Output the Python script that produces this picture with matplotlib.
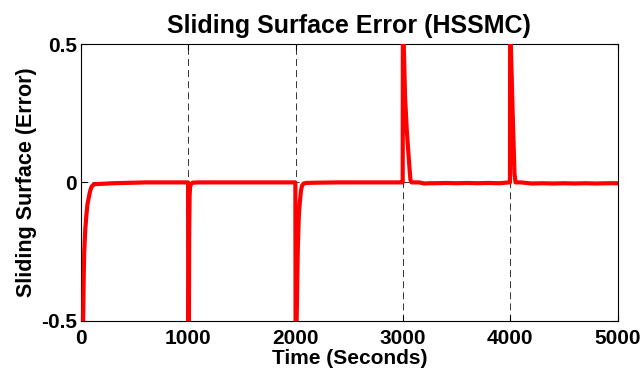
import matplotlib
matplotlib.use("Agg")
import matplotlib.pyplot as plt

plt.rcParams['font.family'] = ['Liberation Sans', 'DejaVu Sans']
plt.rcParams['font.weight'] = 'bold'
plt.rcParams['lines.scale_dashes'] = False

title = "Sliding Surface Error (HSSMC)"
xlabel = "Time (Seconds)"
ylabel = "Sliding Surface (Error)"
xticks = [0, 1000, 2000, 3000, 4000, 5000]
yticks = [-0.5, 0, 0.5]
yticklabels = ["-0.5", "0", "0.5"]

time = [0, 15, 20, 25, 30, 40, 50, 60, 70, 80, 90, 100, 120, 150, 200, 300, 400, 500, 600, 700, 800, 900,
        998, 1002, 1006, 1008, 1012, 1016, 1020, 1030, 1040, 1100, 1300, 1500, 1700, 1900,
        1998, 2003, 2010, 2020, 2030, 2040, 2050, 2060, 2075, 2100, 2200, 2400, 2600, 2800, 2990,
        2998, 3003, 3008, 3020, 3036, 3058, 3070, 3080, 3150, 3200, 3250, 3300, 3400, 3500, 3600, 3700, 3800, 3900, 3990,
        3998, 4002, 4006, 4023, 4040, 4050, 4100, 4200, 4300, 4400, 4500, 4600, 4700, 4800, 4900, 5000]
error = [-1.5, -0.8, -0.5, -0.35, -0.25, -0.17, -0.12, -0.08, -0.06, -0.04, -0.025, -0.015, -0.007, -0.006, -0.005, -0.003, -0.002, -0.001, 0.0, 0.0, 0.0, 0.0,
         0.0, -1.5, -0.5, -0.2, -0.05, -0.02, -0.01, -0.004, -0.001, 0.0, 0.0, 0.0, 0.0, 0.0,
         0.0, -1.5, -0.5, -0.25, -0.12, -0.07, -0.03, -0.012, -0.004, -0.002, -0.001, 0.0, 0.0, 0.0, 0.0,
         0.0, 1.5, 0.5, 0.31, 0.19, 0.07, 0.01, 0.0, 0.0, -0.004, -0.003, -0.003, -0.002, -0.003, -0.002, -0.003, -0.002, -0.003, 0.0,
         0.0, 1.5, 0.5, 0.25, 0.03, 0.0, 0.0, -0.004, -0.003, -0.004, -0.003, -0.004, -0.003, -0.004, -0.003, -0.003]

fig = plt.figure(figsize=(6.41, 3.74), dpi=100)
ax = fig.add_axes([81/641, 1 - 320.5/374, (617.5 - 81)/641, (320.5 - 44.3)/374])

ax.plot(time, error, color='#ff0000', lw=3.0, solid_joinstyle='round', zorder=3)

ax.set_xlim(0, 5000)
ax.set_ylim(-0.5, 0.5)
ax.set_xticks(xticks)
ax.set_yticks(yticks)
ax.set_yticklabels(yticklabels)
ax.grid(True, color='k', lw=0.7, linestyle=(0, (5, 3)), alpha=0.8)
ax.tick_params(direction='in', top=True, right=True, length=4, width=0.8, labelsize=15)
ax.tick_params(axis='x', pad=6)
ax.tick_params(axis='y', pad=3)
for lab in ax.get_xticklabels() + ax.get_yticklabels():
    lab.set_fontweight('bold')
for s in ax.spines.values():
    s.set_linewidth(0.8)

ax.set_title(title, fontsize=18, fontweight='bold', pad=8)
ax.set_xlabel(xlabel, fontsize=15, fontweight='bold', labelpad=1)
ax.set_ylabel(ylabel, fontsize=15.5, fontweight='bold', labelpad=3)

fig.savefig("out.png", dpi=100)
